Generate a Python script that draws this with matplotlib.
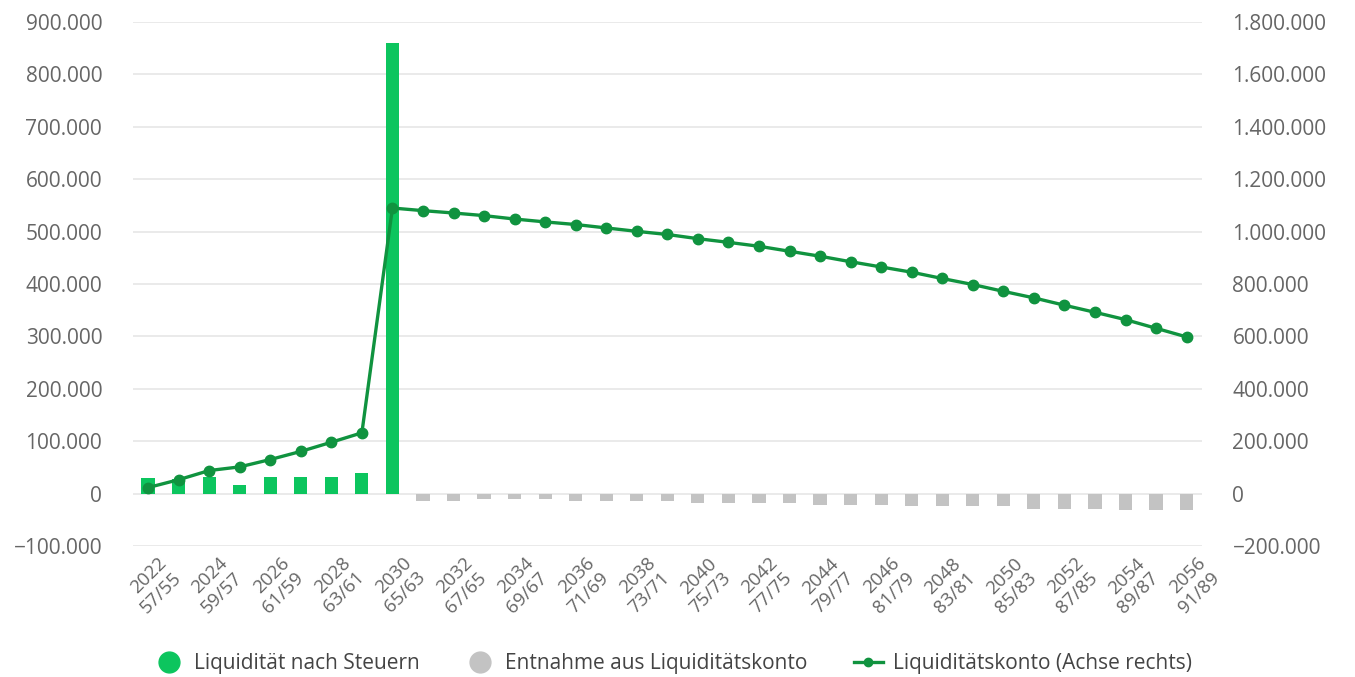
import numpy as np
import matplotlib
matplotlib.use('Agg')
import matplotlib.pyplot as plt
from matplotlib.ticker import FuncFormatter, MultipleLocator
from matplotlib.lines import Line2D
from matplotlib.transforms import ScaledTranslation

plt.rcParams['font.family'] = ['Open Sans', 'DejaVu Sans']

# Jahre und Alter (Partner 1 / Partner 2)
jahre = list(range(2022, 2057))
alter_1 = list(range(57, 92))
alter_2 = list(range(55, 90))

# Liquidität nach Steuern (positiv, linke Achse)
liquiditaet = [29000, 27000, 32000, 17000, 32000, 32000, 32000, 40000, 859000]
# Entnahme aus Liquiditätskonto (negativ, linke Achse), 2031-2056
entnahme = [-15000, -15000, -10000, -10000, -10000, -15000, -15000, -15000, -15000,
            -18000, -18000, -18000, -17000, -21000, -21000, -21000, -24000, -24000,
            -24000, -24000, -29000, -29000, -29000, -32000, -32000, -32000]
# Liquiditätskonto (rechte Achse)
konto = [23000, 53000, 88000, 102000, 130000, 161000, 196000, 232000, 1090000,
         1080000, 1071000, 1061000, 1048000, 1037000, 1027000, 1014000, 1001000,
         989000, 973000, 959000, 944000, 925000, 906000, 885000, 865000, 845000,
         821000, 798000, 772000, 747000, 719000, 692000, 664000, 631000, 598000]

gruen_bar = '#0cc55e'
gruen_linie = '#10933f'
grau_bar = '#c3c3c3'
textfarbe = '#666666'
gitter = '#e6e6e6'

def de_format(v, pos):
    s = '{:,.0f}'.format(abs(v)).replace(',', '.')
    return ('\u2212' + s) if v < 0 else s

fig = plt.figure(figsize=(13.55, 6.77), dpi=100)
ax = fig.add_axes([0.098, 0.1935, 0.789, 0.774])
ax2 = ax.twinx()

x = np.arange(len(jahre))
n_pos = len(liquiditaet)
ax.bar(x[:n_pos], liquiditaet, width=0.43, color=gruen_bar, zorder=2)
ax.bar(x[n_pos:], entnahme, width=0.43, color=grau_bar, zorder=2)

ax2.plot(x, konto, color=gruen_linie, linewidth=2.4, marker='o', markersize=7.5,
         solid_joinstyle='round', zorder=3)

ax.set_xlim(-0.5, len(jahre) - 0.5)
ax.set_ylim(-100000, 900000)
ax2.set_ylim(-200000, 1800000)
ax.yaxis.set_major_locator(MultipleLocator(100000))
ax2.yaxis.set_major_locator(MultipleLocator(200000))
ax.yaxis.set_major_formatter(FuncFormatter(de_format))
ax2.yaxis.set_major_formatter(FuncFormatter(de_format))
ax.grid(axis='y', color=gitter, linewidth=1.2, zorder=0)
ax.set_axisbelow(True)

for a in (ax, ax2):
    for s in a.spines.values():
        s.set_visible(False)
    a.tick_params(axis='both', length=0, colors=textfarbe, labelsize=15)
ax.tick_params(axis='y', pad=22)
ax2.tick_params(axis='y', pad=22)

# Beschriftung nur jedes zweite Jahr
ax.set_xticks(x[::2])
ax.set_xticklabels(['%d\n%d/%d' % (jahre[i], alter_1[i], alter_2[i]) for i in x[::2]],
                   rotation=45, ha='right', va='top', rotation_mode='anchor',
                   multialignment='right', fontsize=13.5, linespacing=1.15)
ax.tick_params(axis='x', pad=6)
versatz = ScaledTranslation(7 / 72, 0, fig.dpi_scale_trans)
for lbl in ax.get_xticklabels():
    lbl.set_transform(lbl.get_transform() + versatz)

handles = [
    Line2D([], [], linestyle='none', marker='o', markersize=15, color=gruen_bar),
    Line2D([], [], linestyle='none', marker='o', markersize=15, color=grau_bar),
    Line2D([], [], color=gruen_linie, linewidth=2.4, marker='o', markersize=6),
]
labels = ['Liquidität nach Steuern', 'Entnahme aus Liquiditätskonto', 'Liquiditätskonto (Achse rechts)']
leg = fig.legend(handles, labels, loc='center', bbox_to_anchor=(0.497, 0.02), ncol=3,
                 frameon=False, fontsize=15, handlelength=1.4, handletextpad=0.5,
                 columnspacing=2.2, labelcolor='#444444')

plt.savefig('out.png', dpi=100)
